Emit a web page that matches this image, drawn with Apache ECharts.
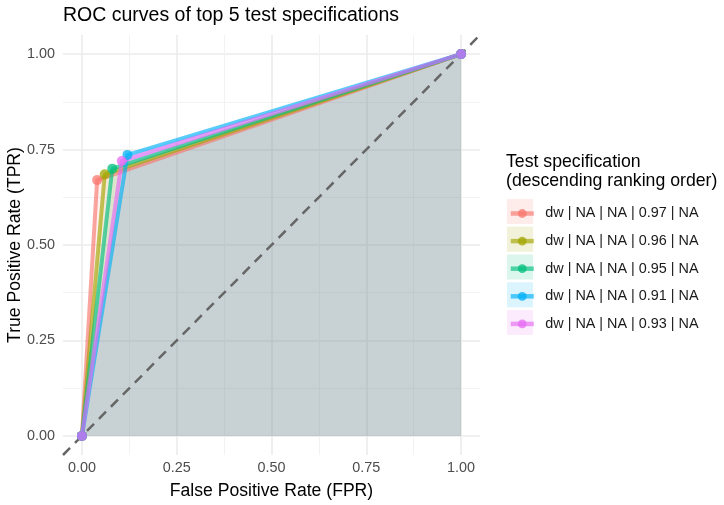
<!DOCTYPE html>
<html>
<head>
<meta charset="utf-8">
<title>ROC curves of top 5 test specifications</title>
<script src="https://cdn.jsdelivr.net/npm/echarts@6/dist/echarts.min.js"></script>
<style>
html, body { margin: 0; padding: 0; background: #fff; }
#chart { width: 724px; height: 505px; }
</style>
</head>
<body>
<div id="chart"></div>
<script>
// data
var specNames = [
  'dw | NA | NA | 0.97 | NA',
  'dw | NA | NA | 0.96 | NA',
  'dw | NA | NA | 0.95 | NA',
  'dw | NA | NA | 0.91 | NA',
  'dw | NA | NA | 0.93 | NA'
];
var specColors = ['#F8766D', '#A3A500', '#00BF7D', '#00B0F6', '#E76BF3'];
var fprPoint = [0.04, 0.06, 0.08, 0.12, 0.105];
var tprPoint = [0.67, 0.685, 0.70, 0.736, 0.72];
var startPoint = [0, 0];
var endPoint = [1, 1];
var diagonal = [[-0.05, -0.05], [1.05, 1.05]];
var majorTicks = [0, 0.25, 0.5, 0.75, 1];
var minorTicks = [0.125, 0.375, 0.625, 0.875];

var fontFamily = '"Liberation Sans", Arial, sans-serif';
var chart = echarts.init(document.getElementById('chart'));

var series = specNames.map(function (name, i) {
  return {
    name: name,
    type: 'line',
    data: [startPoint, [fprPoint[i], tprPoint[i]], endPoint],
    symbol: 'circle',
    symbolSize: 10,
    itemStyle: { color: specColors[i], opacity: 0.75 },
    lineStyle: { width: 4, opacity: 0.65 },
    areaStyle: { color: specColors[i], opacity: 0.1 },
    emphasis: { disabled: true }
  };
});
series.push({
  name: 'diagonal',
  type: 'line',
  data: diagonal,
  showSymbol: false,
  silent: true,
  lineStyle: { color: '#666666', width: 2.5, type: [10, 7] },
  emphasis: { disabled: true }
});

function mainAxis(name, isY) {
  return {
    type: 'value',
    min: -0.05,
    max: 1.05,
    name: name,
    nameLocation: 'middle',
    nameGap: isY ? 39 : 27,
    nameMoveOverlap: false,
    nameTextStyle: { color: '#000', fontSize: 17.6, fontFamily: fontFamily },
    axisLine: { show: false },
    axisTick: { show: false, customValues: majorTicks },
    axisLabel: {
      customValues: majorTicks,
      color: '#4D4D4D',
      fontSize: 14.4,
      fontFamily: fontFamily,
      margin: isY ? 8 : 6,
      formatter: function (v) { return v.toFixed(2); }
    },
    splitLine: { show: true, lineStyle: { color: '#EBEBEB', width: 1.6 } }
  };
}
function minorAxis() {
  return {
    type: 'value',
    min: -0.05,
    max: 1.05,
    axisLine: { show: false },
    axisTick: { show: false, customValues: minorTicks },
    axisLabel: { show: false, customValues: minorTicks },
    splitLine: { show: true, lineStyle: { color: '#F0F0F0', width: 0.9 } }
  };
}

var option = {
  animation: false,
  backgroundColor: '#fff',
  title: [{
    text: 'ROC curves of top 5 test specifications',
    left: 63,
    top: 6,
    padding: 0,
    textStyle: { color: '#000', fontSize: 19.5, fontWeight: 'normal', fontFamily: fontFamily }
  }, {
    text: 'Test specification\n(descending ranking order)',
    left: 506,
    top: 153,
    padding: 0,
    textStyle: { color: '#000', fontSize: 17.7, lineHeight: 19, fontWeight: 'normal', fontFamily: fontFamily }
  }],
  legend: [{
    // pale key backgrounds
    orient: 'vertical',
    left: 507,
    top: 199,
    padding: 0,
    icon: 'rect',
    itemWidth: 26,
    itemHeight: 25,
    itemGap: 2.75,
    selectedMode: false,
    itemStyle: { borderWidth: 0 },
    lineStyle: { width: 0 },
    textStyle: { fontSize: 1, lineHeight: 1 },
    formatter: function () { return ''; },
    data: specNames.map(function (n) {
      return { name: n, itemStyle: { opacity: 0.14, borderWidth: 0 }, lineStyle: { width: 0 } };
    })
  }, {
    orient: 'vertical',
    left: 508.5,
    top: 206.5,
    padding: 0,
    itemWidth: 23,
    itemHeight: 11,
    itemGap: 13.6,
    selectedMode: false,
    textStyle: { color: '#1A1A1A', fontSize: 14.4, fontFamily: fontFamily, padding: [0, 0, 0, 6.5] },
    data: specNames.map(function (n) {
      return { name: n, itemStyle: { opacity: 0.75 }, lineStyle: { opacity: 0.65, width: 4.5 } };
    })
  }],
  grid: { left: 63, right: 244, top: 35, bottom: 50, outerBoundsMode: 'none' },
  xAxis: [mainAxis('False Positive Rate (FPR)', false), minorAxis()],
  yAxis: [mainAxis('True Positive Rate (TPR)', true), minorAxis()],
  series: series
};

chart.setOption(option);
</script>
</body>
</html>
